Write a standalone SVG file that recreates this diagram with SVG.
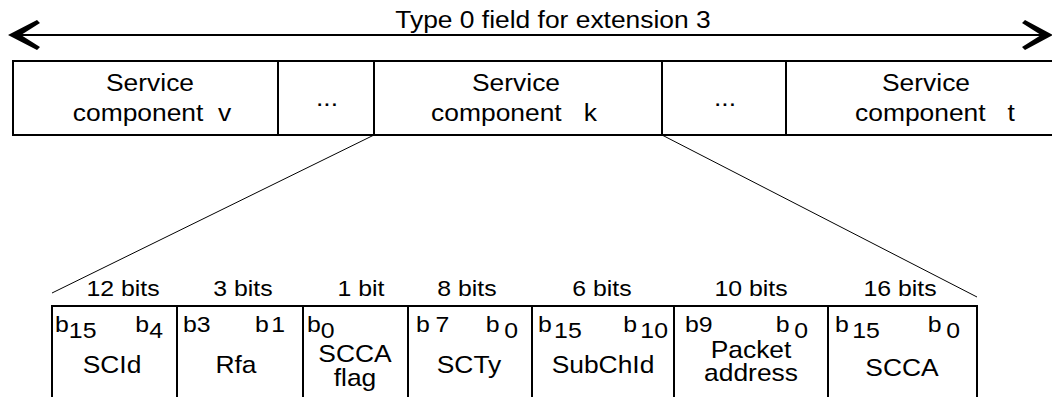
<svg xmlns="http://www.w3.org/2000/svg" width="1052" height="397" viewBox="0 0 1052 397">
<style>
  text { font-family: "Liberation Sans", Arial, sans-serif; fill: #000; }
  .t { font-size: 24px; text-anchor: middle; }
  .bits { font-size: 22px; text-anchor: middle; }
  .b { font-size: 22px; }
  .be { font-size: 22px; text-anchor: end; }
  .box { fill: #fff; stroke: #000; stroke-width: 2; }
  .thin { stroke: #000; stroke-width: 1; fill: none; }
  .thick { stroke: #000; stroke-width: 2; fill: none; }
</style>
<rect x="0" y="0" width="1052" height="397" fill="#fff"/>

<g id="connectors">
  <line class="thick" x1="16" y1="35" x2="1044" y2="35"/>
  <polygon points="8,35 37,20 40,23 21,35 40,47 37,50" fill="#000"/>
  <polygon points="1053,35 1025,20 1022,23 1041,35 1022,47 1025,50" fill="#000"/>
  <line class="thin" x1="374" y1="135" x2="52" y2="293"/>
  <line class="thin" x1="662" y1="135" x2="977" y2="297"/>
</g>

<g id="title">
  <text class="t" transform="translate(553 28) scale(1.1 1)">Type 0 field for extension 3</text>
</g>

<g id="sc-v">
  <rect class="box" x="13" y="61" width="265" height="74"/>
  <text class="t" transform="translate(150 91) scale(1.1 1)">Service</text>
  <text class="t" transform="translate(152 121) scale(1.1 1)" xml:space="preserve">component  v</text>
</g>
<g id="sc-dots1">
  <rect class="box" x="278" y="61" width="96" height="74"/>
  <text class="t" transform="translate(327 106) scale(1.1 1)">...</text>
</g>
<g id="sc-k">
  <rect class="box" x="374" y="61" width="288" height="74"/>
  <text class="t" transform="translate(516 91) scale(1.1 1)">Service</text>
  <text class="t" transform="translate(514 121) scale(1.1 1)" xml:space="preserve">component   k</text>
</g>
<g id="sc-dots2">
  <rect class="box" x="662" y="61" width="124" height="74"/>
  <text class="t" transform="translate(725 106) scale(1.1 1)">...</text>
</g>
<g id="sc-t">
  <rect class="box" x="786" y="61" width="270" height="74"/>
  <text class="t" transform="translate(926 91) scale(1.1 1)">Service</text>
  <text class="t" transform="translate(935 121) scale(1.1 1)" xml:space="preserve">component   t</text>
</g>

<g id="f-scid">
  <rect class="box" x="52" y="306" width="125" height="100"/>
  <text class="bits" transform="translate(123 296) scale(1.13 1)">12 bits</text>
  <text class="b" transform="translate(55 332) scale(1.13 1)">b<tspan dy="6">15</tspan></text>
  <text class="be" transform="translate(163 332) scale(1.13 1)">b<tspan dy="6">4</tspan></text>
  <text class="t" transform="translate(112 373) scale(1.1 1)">SCId</text>
</g>
<g id="f-rfa">
  <rect class="box" x="177" y="306" width="126" height="100"/>
  <text class="bits" transform="translate(243 296) scale(1.13 1)">3 bits</text>
  <text class="b" transform="translate(183 332) scale(1.13 1)">b<tspan>3</tspan></text>
  <text class="be" transform="translate(285 332) scale(1.13 1)">b<tspan dx="2">1</tspan></text>
  <text class="t" transform="translate(236 373) scale(1.1 1)">Rfa</text>
</g>
<g id="f-sccaflag">
  <rect class="box" x="303" y="306" width="105" height="100"/>
  <text class="bits" transform="translate(361 296) scale(1.13 1)">1 bit</text>
  <text class="b" transform="translate(307 332) scale(1.13 1)">b<tspan dy="6">0</tspan></text>
  <text class="t" transform="translate(355 362) scale(1.1 1)">SCCA</text>
  <text class="t" transform="translate(355 386) scale(1.1 1)">flag</text>
</g>
<g id="f-scty">
  <rect class="box" x="408" y="306" width="124" height="100"/>
  <text class="bits" transform="translate(467 296) scale(1.13 1)">8 bits</text>
  <text class="b" transform="translate(416 332) scale(1.13 1)">b<tspan dx="5">7</tspan></text>
  <text class="be" transform="translate(518 332) scale(1.13 1)">b<tspan dx="4" dy="6">0</tspan></text>
  <text class="t" transform="translate(469 373) scale(1.1 1)">SCTy</text>
</g>
<g id="f-subchid">
  <rect class="box" x="532" y="306" width="142" height="100"/>
  <text class="bits" transform="translate(602 296) scale(1.13 1)">6 bits</text>
  <text class="b" transform="translate(538 332) scale(1.13 1)">b<tspan dx="2" dy="6">15</tspan></text>
  <text class="be" transform="translate(668 332) scale(1.13 1)">b<tspan dx="3" dy="6">10</tspan></text>
  <text class="t" transform="translate(603 373) scale(1.1 1)">SubChId</text>
</g>
<g id="f-packet">
  <rect class="box" x="674" y="306" width="154" height="100"/>
  <text class="bits" transform="translate(751 296) scale(1.13 1)">10 bits</text>
  <text class="b" transform="translate(685 332) scale(1.13 1)">b<tspan>9</tspan></text>
  <text class="be" transform="translate(808 332) scale(1.13 1)">b<tspan dx="4" dy="6">0</tspan></text>
  <text class="t" transform="translate(751 358) scale(1.1 1)">Packet</text>
  <text class="t" transform="translate(751 381) scale(1.1 1)">address</text>
</g>
<g id="f-scca">
  <rect class="box" x="828" y="306" width="149" height="100"/>
  <text class="bits" transform="translate(900 296) scale(1.13 1)">16 bits</text>
  <text class="b" transform="translate(835 332) scale(1.13 1)">b<tspan dx="3" dy="6">15</tspan></text>
  <text class="be" transform="translate(960 332) scale(1.13 1)">b<tspan dx="4" dy="6">0</tspan></text>
  <text class="t" transform="translate(902 376) scale(1.1 1)">SCCA</text>
</g>
</svg>
